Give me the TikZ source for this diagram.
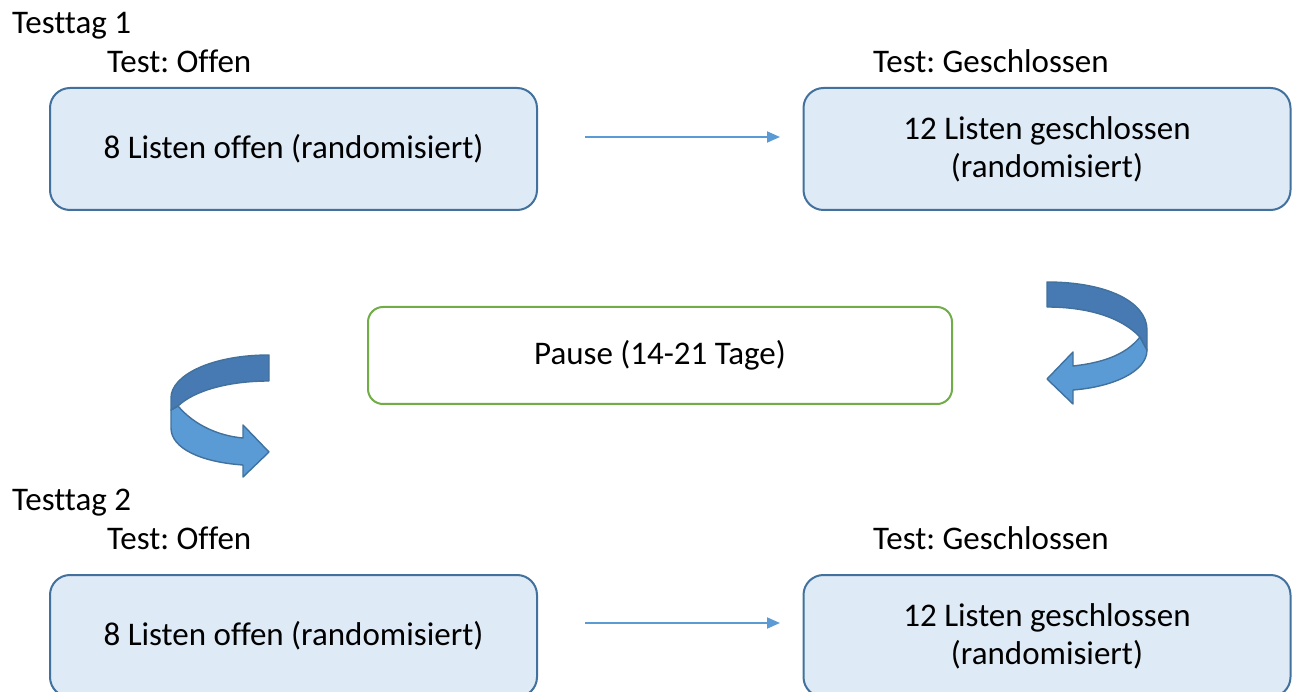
\documentclass[tikz,border=0pt]{standalone}
\usepackage{fontspec}
\setmainfont{Carlito}[Ligatures=NoCommon]
\usetikzlibrary{arrows.meta}
\definecolor{boxfill}{HTML}{DEEAF6}
\definecolor{boxline}{HTML}{41719C}
\definecolor{pausegreen}{HTML}{70AD47}
\definecolor{arrowblue}{HTML}{5B9BD5}
\definecolor{darkface}{HTML}{4779B2}
\frenchspacing
\begin{document}
\begin{tikzpicture}[x=1pt,y=-1pt,
  every node/.style={font=\fontsize{33}{38}\selectfont, inner sep=0pt},
  listbox/.style={draw=boxline, line width=2pt, fill=boxfill, rounded corners=20pt,
    minimum width=487pt, minimum height=122pt, align=center},
  pausebox/.style={draw=pausegreen, line width=2pt, fill=white, rounded corners=15pt,
    minimum width=584pt, minimum height=97pt},
  lbl/.style={anchor=base west},
  flowarrow/.style={draw=arrowblue, line width=1.8pt, -{Triangle[length=13pt,width=11pt]}},
  darkpart/.style={fill=darkface, draw=boxline, line width=1.4pt, line join=round},
  lightpart/.style={fill=arrowblue, draw=boxline, line width=1.4pt, line join=round}
]
\useasboundingbox (0,0) rectangle (1299,692);

% Testtag 1
\node[lbl] (t1) at (12,34) {Testtag 1};
\node[lbl] (o1) at (107,73) {Test: Offen};
\node[lbl] (g1) at (873,73) {Test: Geschlossen};
\node[listbox] (b1) at (293.5,149) {8 Listen offen (randomisiert)};
\node[listbox] (b2) at (1047,149) {12 Listen geschlossen\\(randomisiert)};
\coordinate (a1s) at (585,137);
\coordinate (a1e) at (780,137);
\draw[flowarrow] (a1s) -- (a1e);

% Pause
\node[pausebox] (p) at (660,355.5) {Pause (14-21 Tage)};

% right curved arrow
\draw[lightpart] (1140,337) .. controls (1125,356) and (1100,363) .. (1073,366)
  -- (1073,352) -- (1047,379) -- (1073,404) -- (1073,390)
  .. controls (1112,387) and (1147,372) .. (1147,350) -- cycle;
\draw[darkpart] (1047,282) .. controls (1107,282) and (1147,302) .. (1147,330)
  -- (1147,350) -- (1140,337) .. controls (1120,316) and (1085,307) .. (1047,307) -- cycle;

% left curved arrow
\draw[lightpart] (178,406) .. controls (195,426) and (220,436) .. (243,438)
  -- (243,425) -- (269,452) -- (243,477) -- (243,465)
  .. controls (200,462) and (171,448) .. (171,428) -- (171,410) -- cycle;
\draw[darkpart] (269,355) .. controls (212,355) and (171,375) .. (171,398)
  -- (171,410) -- (178,406) .. controls (195,390) and (230,381) .. (269,381) -- cycle;

% Testtag 2
\node[lbl] (t2) at (12,510) {Testtag 2};
\node[lbl] (o2) at (107,549) {Test: Offen};
\node[lbl] (g2) at (873,549) {Test: Geschlossen};
\node[listbox] (b3) at (293.5,636) {8 Listen offen (randomisiert)};
\node[listbox] (b4) at (1047,636) {12 Listen geschlossen\\(randomisiert)};
\coordinate (a2s) at (585,623);
\coordinate (a2e) at (780,623);
\draw[flowarrow] (a2s) -- (a2e);
\end{tikzpicture}
\end{document}
